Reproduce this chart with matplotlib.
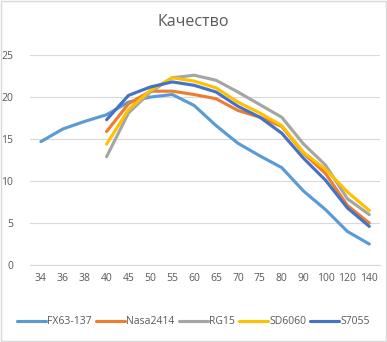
import numpy as np
import matplotlib
matplotlib.use("Agg")
import matplotlib.pyplot as plt
from matplotlib.patches import Rectangle

plt.rcParams['font.family'] = ['Open Sans', 'DejaVu Sans']

categories = ['34', '36', '38', '40', '45', '50', '55', '60', '65', '70',
              '75', '80', '90', '100', '120', '140']

# FX63-137 covers the whole range, the rest start at 40
fx63_137 = [14.7, 16.2, 17.1, 17.9, 19.4, 20.0, 20.3, 19.0, 16.6, 14.5,
            13.0, 11.6, 8.8, 6.6, 4.0, 2.5]
nasa2414 = [15.9, 19.2, 20.7, 20.7, 20.3, 19.8, 18.4, 17.6, 16.5, 13.3,
            10.9, 7.1, 5.0]
rg15 = [12.9, 18.1, 20.6, 22.3, 22.6, 22.0, 20.6, 19.1, 17.6, 14.4,
        11.9, 7.9, 6.0]
sd6060 = [14.4, 18.5, 20.8, 22.3, 21.9, 21.1, 19.4, 18.1, 16.6, 13.4,
          11.4, 8.7, 6.5]
s7055 = [17.3, 20.2, 21.2, 21.8, 21.4, 20.6, 18.9, 17.6, 15.7, 12.7,
         10.1, 6.8, 4.6]

series_names = ['FX63-137', 'Nasa2414', 'RG15', 'SD6060', 'S7055']
colors = ['#5B9BD5', '#ED7D31', '#A5A5A5', '#FFC000', '#4472C4']

fig = plt.figure(figsize=(3.87, 3.42), dpi=100)
ax = fig.add_axes([0.0775, 0.225, 0.905, 0.614])

x_all = np.arange(len(categories))
x_late = x_all[3:]
for name, vals, c in zip(series_names, [fx63_137, nasa2414, rg15, sd6060, s7055], colors):
    xs = x_all if len(vals) == len(categories) else x_late
    ax.plot(xs, vals, color=c, lw=2.25, label=name, solid_capstyle='round')

ax.set_xlim(-0.5, len(categories) - 0.5)
ax.set_ylim(0, 25)
ax.set_yticks([0, 5, 10, 15, 20, 25])
ax.set_xticks(x_all)
ax.set_xticklabels(categories)
ax.yaxis.grid(True, color='#D9D9D9', lw=0.8)
ax.set_axisbelow(True)
for s in ['top', 'right', 'left']:
    ax.spines[s].set_visible(False)
ax.spines['bottom'].set_color('#D9D9D9')
ax.spines['bottom'].set_linewidth(0.8)
ax.tick_params(length=0, labelsize=7.5, labelcolor='#595959', pad=6)
ax.tick_params(axis='y', pad=12)

fig.text(0.5, 0.935, 'Качество', ha='center', va='center', fontsize=11.5, color='#595959')

ax.legend(loc='center', bbox_to_anchor=(0.5, 1 - 322 / 342), bbox_transform=fig.transFigure,
          ncol=5, frameon=False, fontsize=7.5, labelcolor='#595959', handlelength=2.8,
          handletextpad=0.1, columnspacing=0.4)

fig.patches.append(Rectangle((0.002, 0.002), 0.996, 0.996, transform=fig.transFigure,
                             fill=False, edgecolor='#D9D9D9', lw=1))

fig.savefig('out.png', dpi=100)
